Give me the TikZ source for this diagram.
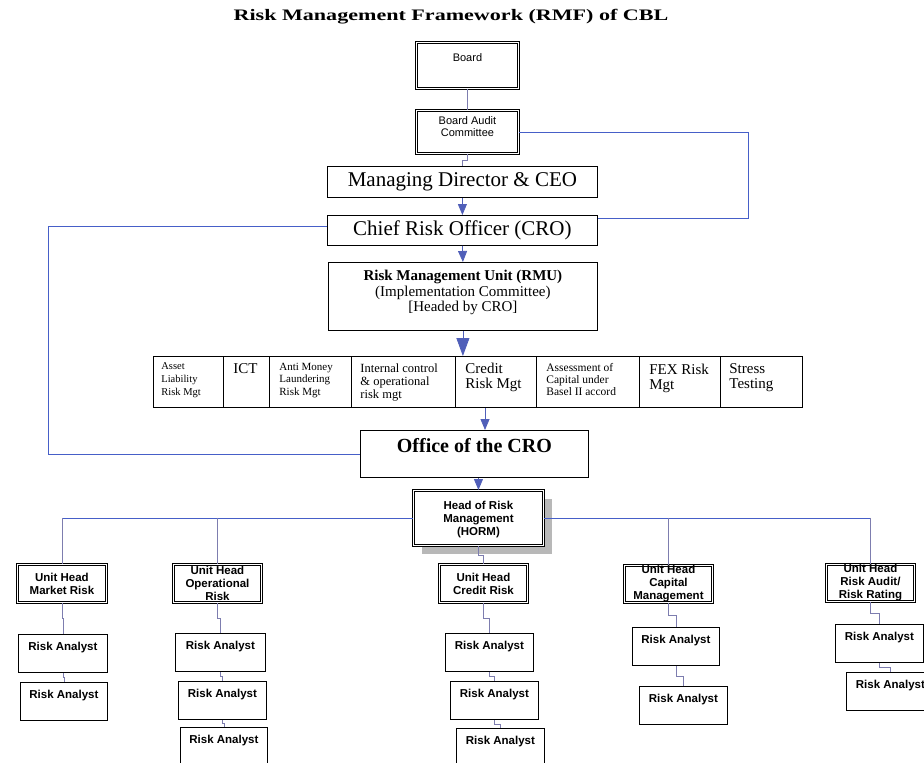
\documentclass[tikz,border=0pt]{standalone}
\usepackage{fontspec}
\setmainfont{Liberation Serif}
\setsansfont{Liberation Sans}
\usetikzlibrary{arrows.meta,calc,shadows}
\definecolor{lnblue}{RGB}{70,95,200}
\definecolor{arblue}{RGB}{80,95,185}
\definecolor{lnpurple}{RGB}{125,125,175}
% width, height, font, top pad, text
\newcommand\tbox[5]{\parbox[c][#2][t]{#1}{#3\centering\vspace*{#4}\strut#5\par}}
% width, height, font, top pad, left pad, text
\newcommand\lbox[6]{\parbox[c][#2][t]{#1}{#3\raggedright\leftskip=#5\vspace*{#4}\strut#6\par}}
\newcommand\anfont{\sffamily\bfseries\fontsize{11.5}{13}\selectfont}
\newcommand\jogline[2]{\draw[dl] (#1.south) |- ($(#1.south)!0.5!(#2.north)$) -| (#2.north);}
\begin{document}
\begin{tikzpicture}[x=1pt,y=-1pt,
  ln/.style={draw=lnblue, line width=0.8pt},
  dl/.style={draw=lnpurple, line width=0.8pt},
  arr/.style={draw=arblue, line width=0.8pt, -{Triangle[width=9pt,length=11pt]}},
  bigarr/.style={draw=arblue, line width=0.8pt, -{Triangle[width=13pt,length=18pt]}},
  box/.style={draw=black, line width=0.8pt, inner sep=0pt, fill=white, anchor=north west},
  dbox/.style={draw=black, line width=0.9pt, double=white, double distance=1.3pt, inner sep=0pt, fill=white, anchor=north west},
  uh/.style={dbox, minimum width=88pt, minimum height=38pt, align=center, font=\sffamily\bfseries\fontsize{11.5}{13}\selectfont},
  bigtext/.style={font=\fontsize{21}{24}\selectfont}
]
\useasboundingbox (0,0) rectangle (924,763);
\fill[white] (0,0) rectangle (924,763);

\node[anchor=base] (title) at (451,20) {\scalebox{1.38}[1]{\fontsize{16}{18}\selectfont\bfseries Risk Management Framework (RMF) of CBL}};

% top chain
\node[dbox] (board) at (416,42) {\tbox{102pt}{46pt}{\sffamily\fontsize{11}{13}\selectfont}{10pt}{Board}};
\node[dbox] (audit) at (416,110) {\tbox{102pt}{43pt}{\sffamily\fontsize{11}{12}\selectfont}{5.6pt}{Board Audit\\Committee}};
\node[box, bigtext, minimum width=270pt, minimum height=31pt] (md) at (327,166) {Managing Director \& CEO};
\node[box, bigtext, minimum width=270pt, minimum height=30pt] (cro) at (327,215) {Chief Risk Officer (CRO)};
\node[box] (rmu) at (328,262) {\tbox{269pt}{68pt}{\fontsize{15}{14.5}\selectfont}{8pt}{\textbf{Risk Management Unit (RMU)}\\(Implementation Committee)\\{[}Headed by CRO{]}}};

% row of functions
\node[box] (c1) at (153,356) {\lbox{70pt}{51pt}{\fontsize{10.5}{13}\selectfont}{3.9pt}{8pt}{Asset\\Liability\\Risk Mgt}};
\node[box] (c2) at (223,356) {\lbox{46pt}{51pt}{\fontsize{15}{15}\selectfont}{6.5pt}{10pt}{ICT}};
\node[box] (c3) at (269,356) {\lbox{82pt}{51pt}{\fontsize{11}{12.5}\selectfont}{5.2pt}{10pt}{Anti Money\\Laundering\\Risk Mgt}};
\node[box] (c4) at (351,356) {\lbox{104pt}{51pt}{\fontsize{12.5}{13}\selectfont}{6.9pt}{9pt}{Internal control\\\& operational\\risk mgt}};
\node[box] (c5) at (455,356) {\lbox{81pt}{51pt}{\fontsize{15}{15}\selectfont}{6.5pt}{10pt}{Credit\\Risk Mgt}};
\node[box] (c6) at (536,356) {\lbox{103pt}{51pt}{\fontsize{11.5}{12}\selectfont}{6.6pt}{10pt}{Assessment of\\Capital under\\Basel II accord}};
\node[box] (c7) at (639,356) {\lbox{81pt}{51pt}{\fontsize{15}{14}\selectfont}{7.2pt}{10pt}{FEX Risk\\Mgt}};
\node[box] (c8) at (720,356) {\lbox{82pt}{51pt}{\fontsize{15}{14}\selectfont}{7.2pt}{9pt}{Stress\\Testing}};

\node[box] (office) at (360,430) {\tbox{228pt}{47pt}{\fontsize{20}{22}\selectfont\bfseries}{6.6pt}{Office of the CRO}};
\node[dbox, drop shadow={shadow xshift=9pt, shadow yshift=-9pt, fill=black!28, opacity=1}] (horm) at (413,490) {\tbox{130pt}{55pt}{\sffamily\bfseries\fontsize{11.5}{13}\selectfont}{9.9pt}{Head of Risk\\Management\\(HORM)}};

% unit heads
\node[uh, minimum width=89pt] (mkt) at (17,564) {Unit Head\\Market Risk};
\node[uh] (opr) at (173,564) {Unit Head\\Operational\\Risk};
\node[uh] (crd) at (439,564) {Unit Head\\Credit Risk};
\node[uh, minimum height=37pt] (cap) at (624,565) {Unit Head\\Capital\\Management};
\node[uh, minimum height=37pt] (aud) at (826,564) {Unit Head\\Risk Audit/\\Risk Rating};

% analysts
\node[box] (m1) at (18,634) {\tbox{89pt}{38pt}{\anfont}{6.9pt}{Risk Analyst}};
\node[box] (m2) at (20,682) {\tbox{87pt}{38pt}{\anfont}{6.9pt}{Risk Analyst}};
\node[box] (o1) at (175,633) {\tbox{90pt}{38pt}{\anfont}{6.9pt}{Risk Analyst}};
\node[box] (o2) at (178,681) {\tbox{88pt}{38pt}{\anfont}{6.9pt}{Risk Analyst}};
\node[box] (o3) at (180,727) {\tbox{87pt}{38pt}{\anfont}{6.9pt}{Risk Analyst}};
\node[box] (r1) at (445,633) {\tbox{88pt}{38pt}{\anfont}{6.9pt}{Risk Analyst}};
\node[box] (r2) at (450,681) {\tbox{88pt}{38pt}{\anfont}{6.9pt}{Risk Analyst}};
\node[box] (r3) at (456,728) {\tbox{88pt}{38pt}{\anfont}{6.9pt}{Risk Analyst}};
\node[box] (k1) at (632,627) {\tbox{87pt}{38pt}{\anfont}{6.9pt}{Risk Analyst}};
\node[box] (k2) at (639,686) {\tbox{88pt}{38pt}{\anfont}{6.9pt}{Risk Analyst}};
\node[box] (a1) at (835,624) {\tbox{88pt}{38pt}{\anfont}{6.9pt}{Risk Analyst}};
\node[box] (a2) at (846,672) {\tbox{88pt}{38pt}{\anfont}{6.9pt}{Risk Analyst}};

% connectors top
\draw[dl] (board.south) -- (audit.north);
\jogline{audit}{md}
\draw[arr] (md.south) -- (cro.north);
\coordinate (rt) at (748,218);
\draw[ln] (audit.east) -| (rt) -- (rt -| cro.east);
\coordinate (lt) at (48,226);
\draw[ln] (lt -| cro.west) -- (lt) |- (office.west);
\draw[arr] (cro.south) -- (rmu.north);
\draw[bigarr] (rmu.south) -- (rmu.south |- c5.north);
\coordinate (rowout) at ($(c5.south west)+(30,0)$);
\draw[arr] (rowout) -- (rowout |- office.north);
\draw[arr] (horm.north |- office.south) -- (horm.north);

% HORM to unit heads
\draw[ln] (horm.west) -- (horm.west -| mkt.north);
\draw[dl] (horm.west -| mkt.north) -- (mkt.north);
\draw[dl] (horm.west -| opr.north) -- (opr.north);
\draw[ln] (horm.east) -- (horm.east -| aud.north);
\draw[dl] (horm.east -| cap.north) -- (cap.north);
\draw[dl] (horm.east -| aud.north) -- (aud.north);
\jogline{horm}{crd}

% unit heads to analysts
\jogline{mkt}{m1}
\jogline{m1}{m2}
\jogline{opr}{o1}
\jogline{o1}{o2}
\jogline{o2}{o3}
\jogline{crd}{r1}
\jogline{r1}{r2}
\jogline{r2}{r3}
\jogline{cap}{k1}
\jogline{k1}{k2}
\jogline{aud}{a1}
\jogline{a1}{a2}
\end{tikzpicture}
\end{document}
